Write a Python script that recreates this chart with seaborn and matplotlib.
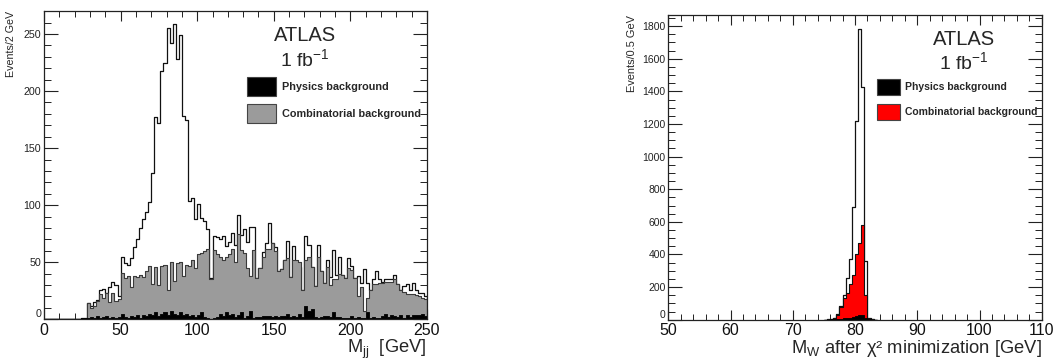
import numpy as np
import pandas as pd
import matplotlib
matplotlib.use("Agg")
import matplotlib.pyplot as plt
from matplotlib.patches import Patch
from matplotlib.ticker import MultipleLocator
import seaborn as sns

# ---------------- data : left panel (M_jj, 2 GeV bins from 0 to 250 GeV) ----------------
mjj_range = (0.0, 250.0)
mjj_total = [
    0, 0, 0, 0, 0, 0, 0, 0, 0, 0, 0, 0, 1, 1, 14, 12, 15, 17, 26, 27,
    23, 28, 33, 30, 20, 55, 49, 48, 54, 63, 70, 80, 88, 94, 103, 128, 177, 172, 218, 225,
    255, 242, 259, 228, 249, 178, 175, 104, 106, 88, 101, 89, 86, 79, 36, 73, 72, 70, 73, 64,
    68, 76, 65, 91, 74, 79, 68, 81, 81, 36, 45, 59, 67, 84, 67, 63, 42, 44, 52, 69,
    37, 64, 45, 46, 26, 73, 65, 46, 29, 65, 42, 32, 52, 37, 61, 39, 55, 39, 36, 54,
    47, 36, 38, 32, 44, 32, 26, 35, 42, 35, 33, 35, 35, 35, 39, 31, 26, 29, 31, 26,
    32, 26, 23, 23, 20]
mjj_comb = [
    0, 0, 0, 0, 0, 0, 0, 0, 0, 0, 0, 0, 0, 0, 14, 10, 12, 16, 22, 19,
    23, 15, 23, 16, 18, 41, 36, 38, 28, 38, 37, 39, 37, 42, 47, 31, 46, 30, 47, 48,
    26, 50, 34, 49, 50, 38, 48, 47, 52, 45, 57, 58, 60, 62, 35, 61, 57, 55, 52, 55,
    57, 62, 50, 75, 61, 58, 45, 38, 61, 36, 45, 55, 62, 62, 67, 60, 42, 44, 52, 54,
    37, 52, 52, 50, 26, 52, 55, 46, 29, 55, 42, 32, 46, 30, 35, 35, 40, 39, 36, 45,
    43, 36, 20, 28, 7, 19, 26, 31, 31, 32, 32, 33, 33, 33, 35, 31, 26, 24, 22, 22,
    22, 21, 20, 19, 18]
mjj_phys = [
    0, 0, 0, 0, 0, 0, 0, 0, 0, 0, 0, 0, 1, 1, 1, 2, 1, 3, 1, 2,
    3, 1, 2, 1, 2, 5, 2, 1, 3, 2, 4, 1, 4, 3, 5, 4, 6, 3, 5, 6,
    4, 7, 5, 4, 6, 4, 5, 3, 4, 2, 4, 6, 2, 1, 0, 1, 2, 5, 3, 6,
    4, 5, 2, 4, 6, 1, 3, 7, 1, 2, 2, 3, 3, 3, 2, 3, 2, 3, 3, 5,
    2, 3, 2, 5, 2, 12, 7, 9, 2, 1, 2, 3, 3, 2, 6, 2, 2, 1, 1, 1,
    3, 1, 2, 1, 1, 6, 1, 2, 1, 1, 3, 5, 2, 4, 3, 2, 4, 1, 4, 2,
    4, 4, 4, 5, 3]

# ---------------- data : right panel (M_W after chi2, 0.5 GeV bins) ----------------
mw_range = (75.0, 83.5)
mw_total = [1, 2, 4, 12, 35, 86, 151, 253, 371, 688, 1216, 1782, 1426, 360, 12, 3, 1]
mw_comb = [0, 1, 3, 10, 30, 76, 130, 165, 218, 273, 400, 470, 578, 150, 6, 2, 0]
mw_phys = [0, 1, 2, 3, 4, 6, 8, 10, 12, 15, 22, 30, 26, 10, 2, 1, 0]

legend_labels = ["Physics background", "Combinatorial background"]

# ---------------- style ----------------
sns.set_theme(style="ticks")
plt.rcParams['font.family'] = ['Liberation Sans', 'DejaVu Sans']
plt.rcParams['mathtext.fontset'] = 'custom'
plt.rcParams['mathtext.rm'] = 'Liberation Sans'
plt.rcParams['mathtext.it'] = 'Liberation Sans:italic'
plt.rcParams['mathtext.bf'] = 'Liberation Sans:bold'

fig = plt.figure(figsize=(10.6, 3.6), dpi=100)
ax1 = fig.add_axes([0.0415, 0.113, 0.3613, 0.856])
ax2 = fig.add_axes([0.6305, 0.112, 0.3523, 0.847])


def draw_hist(ax, rng, values, face, edge, lw):
    n = len(values)
    edges = np.linspace(rng[0], rng[1], n + 1)
    df = pd.DataFrame({"m": 0.5 * (edges[:-1] + edges[1:]),
                       "w": np.asarray(values, dtype=float)})
    sns.histplot(data=df, x="m", weights="w", bins=list(edges), element="step",
                 fill=True, facecolor=face, edgecolor=edge, linewidth=lw, alpha=1, ax=ax)


GRAY = "#9b9b9b"

# left
draw_hist(ax1, mjj_range, mjj_total, "white", "#111111", 0.9)
draw_hist(ax1, mjj_range, mjj_comb, GRAY, "#3a3a3a", 0.8)
draw_hist(ax1, mjj_range, mjj_phys, "black", "black", 0.6)

# right
draw_hist(ax2, mw_range, mw_total, "white", "#111111", 0.9)
draw_hist(ax2, mw_range, mw_comb, "#ff0000", "#111111", 0.8)
draw_hist(ax2, mw_range, mw_phys, "black", "black", 0.6)

ax1.set_xlim(0, 250)
ax1.set_ylim(0, 270)
ax2.set_xlim(50, 110)
ax2.set_ylim(0, 1870)

ax1.xaxis.set_major_locator(MultipleLocator(50))
ax1.xaxis.set_minor_locator(MultipleLocator(10))
ax1.yaxis.set_major_locator(MultipleLocator(50))
ax1.yaxis.set_minor_locator(MultipleLocator(10))
ax2.xaxis.set_major_locator(MultipleLocator(10))
ax2.xaxis.set_minor_locator(MultipleLocator(2))
ax2.yaxis.set_major_locator(MultipleLocator(200))
ax2.yaxis.set_minor_locator(MultipleLocator(50))

for ax, ysize in ((ax1, 7.7), (ax2, 7.5)):
    ax.tick_params(which='both', direction='in', top=True, right=True, color='#222222')
    ax.tick_params(axis='y', which='major', length=10, width=0.8)
    ax.tick_params(axis='y', which='minor', length=5, width=0.7)
    ax.tick_params(axis='x', which='major', length=7, width=0.8)
    ax.tick_params(axis='x', which='minor', length=4, width=0.7)
    ax.tick_params(axis='x', which='major', labelsize=11.5, pad=2.5, labelcolor='#111111')
    ax.tick_params(axis='y', which='major', labelsize=ysize, pad=2, labelcolor='#222222')
    for s in ax.spines.values():
        s.set_color('#222222')
        s.set_linewidth(0.9)
    ax.set_facecolor('white')

# lift the y-axis "0" label so it sits just above the x tick labels (as in ROOT)
fig.canvas.draw()
for ax in (ax1, ax2):
    for tick in ax.yaxis.get_major_ticks():
        if abs(tick.get_loc()) < 1e-9:
            tick.label1.set_verticalalignment('bottom')

ax1.set_xlabel(r"M$_{\mathrm{jj}}$  [GeV]", loc="right", fontsize=13.2, labelpad=0)
ax1.set_ylabel("Events/2 GeV", loc="top", fontsize=7.7)
ax1.yaxis.set_label_coords(-0.072, 1.0)
ax2.set_xlabel(r"M$_{\mathrm{W}}$ after χ² minimization [GeV]", loc="right",
               fontsize=13.2, labelpad=0)
ax2.set_ylabel("Events/0.5 GeV", loc="top", fontsize=7.9)
ax2.yaxis.set_label_coords(-0.085, 1.0)

# ATLAS labels
for ax, xc, y1, y2 in ((ax1, 0.681, 0.921, 0.845), (ax2, 0.792, 0.920, 0.843)):
    ax.text(xc, y1, "ATLAS", transform=ax.transAxes, ha='center', va='center',
            fontsize=14.5)
    ax.text(xc, y2, r"1 fb$^{-1}$", transform=ax.transAxes, ha='center', va='center',
            fontsize=14)

# legends
h1 = [Patch(facecolor='black', edgecolor='#444444', linewidth=0.8),
      Patch(facecolor=GRAY, edgecolor='#444444', linewidth=0.8)]
ax1.legend(h1, legend_labels, loc='upper left', bbox_to_anchor=(0.53, 0.785),
           frameon=False, borderpad=0, borderaxespad=0, handlelength=2.7,
           handleheight=2.3, handletextpad=0.5, labelspacing=0.75,
           prop={'weight': 'bold', 'size': 7.8})
h2 = [Patch(facecolor='black', edgecolor='#444444', linewidth=0.8),
      Patch(facecolor='#ff0000', edgecolor='#444444', linewidth=0.8)]
ax2.legend(h2, legend_labels, loc='upper left', bbox_to_anchor=(0.558, 0.79),
           frameon=False, borderpad=0, borderaxespad=0, handlelength=2.2,
           handleheight=2.0, handletextpad=0.55, labelspacing=0.85,
           prop={'weight': 'bold', 'size': 7.5})

fig.savefig("out.png", dpi=100, facecolor='white')
